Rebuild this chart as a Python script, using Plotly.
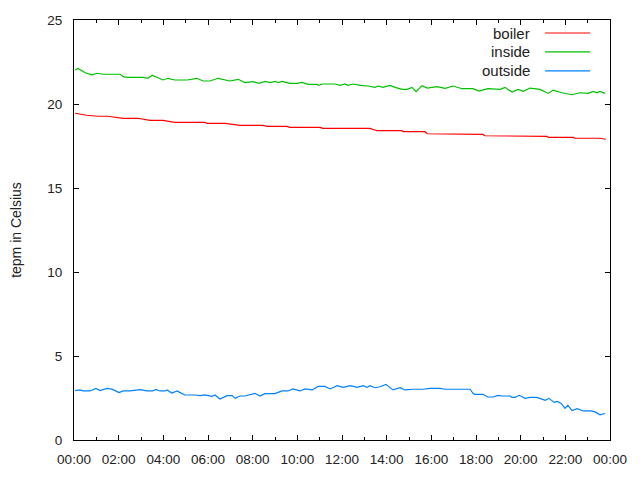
"""Gnuplot-style temperature log for one day: boiler, inside, outside."""

import pandas as pd
import plotly.graph_objects as go

DAY = pd.Timestamp("2013-01-01 00:00")

# minutes after midnight / temperature in Celsius
boiler_min = [3, 34, 64, 91, 132, 172, 204, 239, 271, 352, 357, 406, 446, 508,
              519, 572, 580, 661, 669, 795, 814, 881, 884, 943, 949, 1010, 1016,
              1099, 1104, 1190, 1193, 1271, 1274, 1341, 1346, 1413, 1429]
boiler_temp = [19.45, 19.33, 19.27, 19.27, 19.15, 19.15, 19.03, 19.03, 18.91,
               18.91, 18.85, 18.85, 18.73, 18.73, 18.67, 18.67, 18.61, 18.61,
               18.55, 18.55, 18.41, 18.41, 18.35, 18.35, 18.23, 18.23, 18.19,
               18.19, 18.11, 18.11, 18.07, 18.07, 18.01, 18.01, 17.96, 17.96,
               17.90]

inside_min = [3, 11, 30, 48, 62, 78, 124, 132, 145, 185, 199, 210, 239, 253, 271,
              304, 330, 347, 365, 387, 419, 441, 459, 481, 497, 513, 527, 540,
              548, 559, 580, 599, 613, 629, 653, 656, 669, 701, 715, 728, 736,
              750, 769, 782, 790, 809, 817, 830, 849, 863, 881, 895, 908, 919,
              935, 949, 962, 975, 997, 1018, 1043, 1072, 1088, 1112, 1145, 1158,
              1177, 1193, 1207, 1225, 1252, 1274, 1287, 1311, 1338, 1360, 1381,
              1395, 1405, 1413, 1427]
inside_temp = [22.02, 22.12, 21.86, 21.73, 21.83, 21.77, 21.77, 21.63, 21.59,
               21.59, 21.53, 21.71, 21.43, 21.53, 21.43, 21.43, 21.53, 21.37,
               21.37, 21.53, 21.37, 21.47, 21.27, 21.33, 21.23, 21.35, 21.27,
               21.35, 21.27, 21.35, 21.23, 21.23, 21.29, 21.17, 21.17, 21.11,
               21.19, 21.19, 21.11, 21.19, 21.11, 21.19, 21.11, 21.11, 21.07,
               20.99, 21.07, 20.99, 21.11, 20.99, 20.87, 20.87, 20.99, 20.73,
               21.09, 20.95, 20.99, 21.03, 20.93, 21.07, 20.91, 20.91, 20.77,
               20.91, 20.87, 20.99, 20.71, 20.87, 20.75, 20.95, 20.87, 20.63,
               20.83, 20.67, 20.55, 20.67, 20.63, 20.75, 20.67, 20.75, 20.63]

outside_min = [3, 16, 24, 43, 59, 70, 89, 102, 121, 132, 150, 177, 196, 212, 220,
               231, 245, 250, 263, 277, 285, 298, 325, 339, 352, 371, 379, 392,
               411, 425, 433, 446, 459, 473, 486, 500, 513, 540, 559, 575, 588,
               607, 621, 640, 656, 674, 688, 707, 723, 742, 760, 777, 787, 795,
               809, 822, 838, 857, 876, 889, 911, 938, 957, 983, 997, 1064, 1072,
               1077, 1099, 1112, 1126, 1139, 1150, 1172, 1177, 1185, 1196, 1212,
               1225, 1244, 1252, 1266, 1276, 1290, 1298, 1309, 1319, 1327, 1338,
               1352, 1368, 1387, 1400, 1413, 1427]
outside_temp = [2.94, 2.98, 2.92, 2.92, 3.07, 2.94, 3.07, 3.03, 2.82, 2.92, 2.92,
                3.00, 2.92, 2.92, 3.01, 2.92, 2.92, 2.98, 2.80, 2.92, 2.82, 2.68,
                2.68, 2.64, 2.68, 2.60, 2.68, 2.44, 2.64, 2.64, 2.48, 2.62, 2.62,
                2.68, 2.78, 2.62, 2.76, 2.76, 2.92, 2.92, 3.04, 2.92, 3.04, 2.98,
                3.19, 3.19, 3.04, 3.23, 3.13, 3.23, 3.13, 3.23, 3.13, 3.23, 3.11,
                3.17, 3.31, 2.98, 3.11, 2.98, 3.02, 3.02, 3.07, 3.07, 3.02, 3.02,
                2.78, 2.72, 2.72, 2.56, 2.56, 2.66, 2.62, 2.62, 2.54, 2.54, 2.66,
                2.48, 2.54, 2.54, 2.48, 2.36, 2.48, 2.24, 2.30, 2.18, 1.89, 2.06,
                1.75, 1.86, 1.73, 1.73, 1.67, 1.50, 1.58]

series_names = ["boiler", "inside", "outside"]
series_colors = ["#ff0000", "#00c000", "#0080ff"]

FONT = "Liberation Sans, Arial, sans-serif"


def to_time(minutes):
    return DAY + pd.to_timedelta(minutes, unit="m")


fig = go.Figure()
for name, color, mins, temps in zip(
        series_names, series_colors,
        [boiler_min, inside_min, outside_min],
        [boiler_temp, inside_temp, outside_temp]):
    fig.add_trace(go.Scatter(x=to_time(mins), y=temps, mode="lines", name=name,
                             line=dict(color=color, width=1.2), showlegend=False))

# gnuplot-like key: right-aligned label, sample line on its right
key_rows = [0.969, 0.924, 0.879]
for name, color, ky in zip(series_names, series_colors, key_rows):
    fig.add_annotation(x=0.854, y=ky, xref="paper", yref="paper", text=name,
                       showarrow=False, xanchor="right", yanchor="middle",
                       font=dict(size=15, color="#222222", family=FONT))
    fig.add_shape(type="line", xref="paper", yref="paper", x0=0.879, x1=0.963,
                  y0=ky, y1=ky, line=dict(color=color, width=1.2))

axis_common = dict(showline=True, linecolor="black", linewidth=1, mirror="allticks",
                   ticks="inside", ticklen=5, tickcolor="black", showgrid=False,
                   zeroline=False, automargin=False,
                   tickfont=dict(size=13.5, color="#222222", family=FONT))

# page body adds an 8px offset, so the figure is 632x472 with margins trimmed
fig.update_layout(
    width=632, height=472,
    plot_bgcolor="white", paper_bgcolor="white",
    margin=dict(l=66, r=30, t=12, b=40),
    font=dict(family=FONT, size=14, color="#222222"),
    xaxis=dict(range=[DAY, DAY + pd.Timedelta(hours=24)], type="date",
               dtick=2 * 3600 * 1000, tick0=DAY, tickformat="%H:%M",
               ticklabelstandoff=7,
               minor=dict(dtick=3600 * 1000, ticks="inside", ticklen=3,
                          tickcolor="black"),
               **axis_common),
    yaxis=dict(range=[0, 25], dtick=5, ticklabelstandoff=8,
               title=dict(text="tepm in Celsius", standoff=23,
                          font=dict(size=14, family=FONT)),
               **axis_common),
)

fig.write_html("out.html")
